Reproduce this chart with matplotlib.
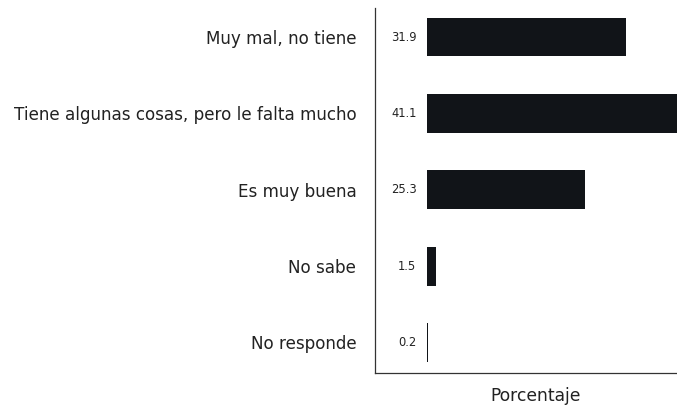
import matplotlib
matplotlib.use("Agg")
import matplotlib.pyplot as plt

categories = ["Muy mal, no tiene",
              "Tiene algunas cosas, pero le falta mucho",
              "Es muy buena",
              "No sabe",
              "No responde"]
values = [31.9, 41.1, 25.3, 1.5, 0.2]
labels = ["31.9", "41.1", "25.3", "1.5", "0.2"]

plt.rcParams['font.family'] = ['DejaVu Sans']

fig = plt.figure(figsize=(6.77, 4.05), dpi=100)
ax = fig.add_axes([375 / 677, 32 / 405, 322 / 677, 365 / 405])

bar_color = "#111418"
ypos = list(range(len(categories)))
ax.barh(ypos, values, height=0.51, color=bar_color)

for y, lab in zip(ypos, labels):
    ax.text(-1.7, y, lab, ha="right", va="center", fontsize=8.3, color="#222222")

ax.set_xlim(-8.34, 43.3)
ax.set_ylim(4.4, -0.38)
ax.set_yticks(ypos)
ax.set_yticklabels(categories, fontsize=12.1, color="#222222")
ax.tick_params(axis="y", length=0, pad=13.5)
ax.set_xticks([])
ax.set_xlabel("Porcentaje", fontsize=12.3, color="#222222", labelpad=10)

for s in ["top", "right"]:
    ax.spines[s].set_visible(False)
for s in ["left", "bottom"]:
    ax.spines[s].set_color("#333333")
    ax.spines[s].set_linewidth(0.9)

fig.savefig("out.png", dpi=100)
